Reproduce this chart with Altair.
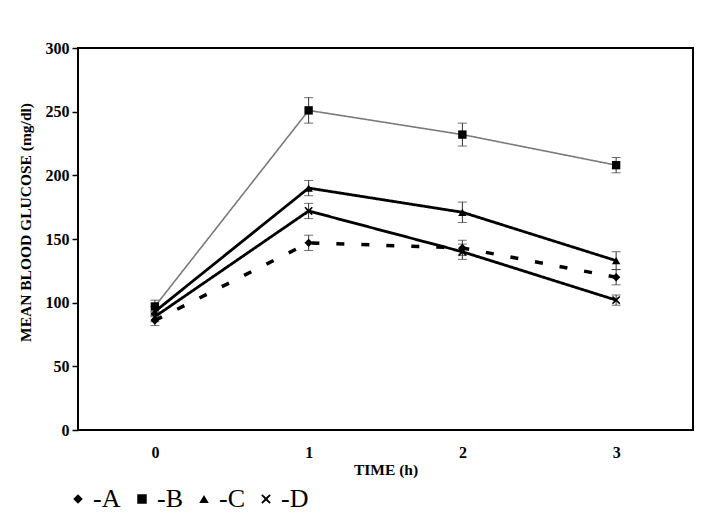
import altair as alt
import pandas as pd

times = [0, 1, 2, 3]
series = ["A", "B", "C", "D"]
A_vals = [86, 147, 143, 120]
B_vals = [97, 251, 232, 208]
C_vals = [93, 190, 171, 133]
D_vals = [89, 172, 140, 102]
A_err = [4, 6, 6, 6]
B_err = [5, 10, 9, 6]
C_err = [4, 6, 8, 7]
D_err = [4, 6, 6, 4]

rows = []
for name, vals, errs in [("A", A_vals, A_err), ("B", B_vals, B_err),
                         ("C", C_vals, C_err), ("D", D_vals, D_err)]:
    for t, v, e in zip(times, vals, errs):
        rows.append({"time": t, "series": name, "glucose": v,
                     "lo": v - e, "hi": v + e})
df = pd.DataFrame(rows)

FONT = "Liberation Serif"
x_enc = alt.X("time:Q", scale=alt.Scale(domain=[-0.5, 3.5], nice=False),
              axis=alt.Axis(values=times, format="d", title="TIME (h)",
                            ticks=False, domain=False, grid=False,
                            labelPadding=14, titlePadding=2,
                            labelFont=FONT, labelFontSize=16, labelFontWeight="bold",
                            titleFont=FONT, titleFontSize=15.5, titleFontWeight="bold",
                            labelColor="black", titleColor="black"))
y_scale = alt.Scale(domain=[0, 300], nice=False)
y_enc = alt.Y("glucose:Q", scale=y_scale,
              axis=alt.Axis(values=[0, 50, 100, 150, 200, 250, 300],
                            title="MEAN BLOOD GLUCOSE (mg/dl)", grid=False,
                            domain=False, tickColor="black", tickSize=6, tickWidth=1.5,
                            labelPadding=3, titlePadding=12, titleY=174,
                            labelFont=FONT, labelFontSize=16, labelFontWeight="bold",
                            titleFont=FONT, titleFontSize=15.5, titleFontWeight="bold",
                            labelColor="black", titleColor="black"))


def line_layer(name, color, width, dash):
    return alt.Chart(df).transform_filter(alt.datum.series == name).mark_line(
        color=color, strokeWidth=width, strokeDash=dash).encode(x=x_enc, y=y_enc)


lines = [
    line_layer("A", "black", 3.5, [8, 17]),
    line_layer("B", "#7a7a7a", 1.6, [1, 0]),
    line_layer("C", "black", 2.8, [1, 0]),
    line_layer("D", "black", 2.8, [1, 0]),
]

errs = alt.Chart(df).mark_rule(color="#333333", strokeWidth=1).encode(
    x="time:Q", y=alt.Y("lo:Q", scale=y_scale), y2="hi:Q")
caps_lo = alt.Chart(df).mark_tick(color="#333333", thickness=1, size=9,
                                  orient="horizontal").encode(
    x="time:Q", y=alt.Y("lo:Q", scale=y_scale))
caps_hi = alt.Chart(df).mark_tick(color="#333333", thickness=1, size=9,
                                  orient="horizontal").encode(
    x="time:Q", y=alt.Y("hi:Q", scale=y_scale))

x_path = ("M-1,-0.75L-0.3,0L-1,0.75L-0.75,1L0,0.3L0.75,1L1,0.75L0.3,0"
          "L1,-0.75L0.75,-1L0,-0.3L-0.75,-1Z")
points = alt.Chart(df).mark_point(filled=True, opacity=1, color="black").encode(
    x="time:Q", y=alt.Y("glucose:Q", scale=y_scale),
    shape=alt.Shape("series:N", scale=alt.Scale(domain=series,
                    range=["diamond", "square", "triangle-up", x_path]),
                    legend=alt.Legend(title=None, orient="none", direction="horizontal",
                                      legendX=-13, legendY=438,
                                      labelExpr="'-' + datum.label",
                                      labelFont=FONT, labelFontSize=26,
                                      labelColor="black", labelOffset=2,
                                      symbolFillColor="black", symbolStrokeColor="black",
                                      symbolSize=90, columnPadding=8)),
    size=alt.value(70),
)

chart = alt.layer(*lines, errs, caps_lo, caps_hi, points).properties(
    width=615, height=382,
    autosize=alt.AutoSizeParams(type="none"),
    padding={"left": 70, "top": 40, "right": 21, "bottom": 92},
    background="white",
).configure_view(stroke="black", strokeWidth=2)

chart.save("out.html", embed_options={"renderer": "svg", "actions": False})
